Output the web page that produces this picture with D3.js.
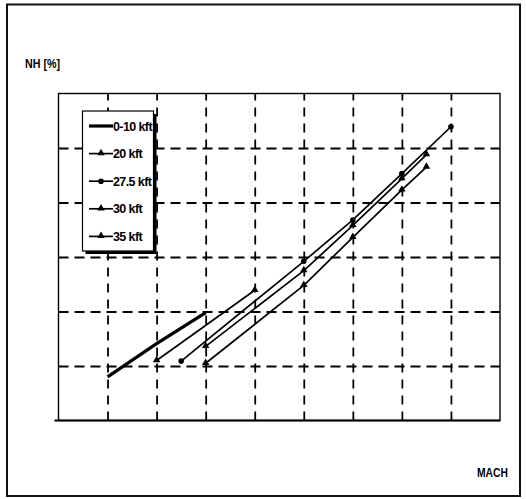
<!DOCTYPE html>
<html>
<head>
<meta charset="utf-8">
<script src="https://cdn.jsdelivr.net/npm/d3@7/dist/d3.min.js"></script>
<style>
  body { margin: 0; background: #ffffff; }
  svg { display: block; font-family: "Liberation Sans", Arial, sans-serif; }
</style>
</head>
<body>
<div id="chart"></div>
<script>
// grid positions (no tick labels are printed in the original)
const MACH_GRID = [0, 1, 2, 3, 4, 5, 6, 7, 8, 9];
const NH_GRID = [0, 1, 2, 3, 4, 5, 6];

const SERIES_LABELS = ["0-10 kft", "20 kft", "27.5 kft", "30 kft", "35 kft"];

// values, in grid units
const MACH_0_10 = [1, 2, 3];
const NH_0_10 = [0.8, 1.41, 1.98];

const MACH_20 = [2, 4];
const NH_20 = [1.1, 2.39];

const MACH_27_5 = [2.5, 5, 6, 7, 8];
const NH_27_5 = [1.09, 2.92, 3.68, 4.53, 5.39];

const MACH_30 = [3, 5, 6, 7, 7.5];
const NH_30 = [1.36, 2.75, 3.58, 4.44, 4.88];

const MACH_35 = [3, 5, 6, 7, 7.5];
const NH_35 = [1.05, 2.48, 3.36, 4.23, 4.65];

const SERIES = [
  { label: SERIES_LABELS[0], xs: MACH_0_10, ys: NH_0_10, width: 3.2, marker: null },
  { label: SERIES_LABELS[1], xs: MACH_20, ys: NH_20, width: 1.7, marker: "triangle" },
  { label: SERIES_LABELS[2], xs: MACH_27_5, ys: NH_27_5, width: 1.7, marker: "circle" },
  { label: SERIES_LABELS[3], xs: MACH_30, ys: NH_30, width: 1.7, marker: "triangle" },
  { label: SERIES_LABELS[4], xs: MACH_35, ys: NH_35, width: 1.7, marker: "triangle" },
];

const width = 526;
const height = 499;
const plot = { left: 58.5, right: 500, top: 93.5, bottom: 420.5 };

const svg = d3
  .select("#chart")
  .append("svg")
  .attr("width", width)
  .attr("height", height);

// outer frame
svg
  .append("rect")
  .attr("x", 7)
  .attr("y", 4.5)
  .attr("width", 513)
  .attr("height", 491.5)
  .attr("fill", "none")
  .attr("stroke", "#111")
  .attr("stroke-width", 2);

const xScale = d3.scaleLinear().domain([0, 9]).range([plot.left, plot.right]);
const yScale = d3.scaleLinear().domain([0, 6]).range([plot.bottom, plot.top]);

// dashed grid, drawn with axes
const innerW = plot.right - plot.left;
const innerH = plot.bottom - plot.top;

const vGrid = svg
  .append("g")
  .attr("transform", `translate(0,${plot.bottom})`)
  .call(
    d3
      .axisBottom(xScale)
      .tickValues(MACH_GRID.slice(1, -1))
      .tickSize(-innerH)
      .tickFormat("")
  );
vGrid.select(".domain").remove();
vGrid
  .selectAll(".tick line")
  .attr("stroke", "#000")
  .attr("stroke-width", 1.8)
  .attr("stroke-dasharray", "9,7");

const hGrid = svg
  .append("g")
  .attr("transform", `translate(${plot.left},0)`)
  .call(
    d3
      .axisLeft(yScale)
      .tickValues(NH_GRID.slice(1, -1))
      .tickSize(-innerW)
      .tickFormat("")
  );
hGrid.select(".domain").remove();
hGrid
  .selectAll(".tick line")
  .attr("stroke", "#000")
  .attr("stroke-width", 2)
  .attr("stroke-dasharray", "10,6");

// plot area box
svg
  .append("rect")
  .attr("x", plot.left)
  .attr("y", plot.top)
  .attr("width", innerW)
  .attr("height", innerH)
  .attr("fill", "none")
  .attr("stroke", "#000")
  .attr("stroke-width", 1.4);
svg
  .append("line")
  .attr("x1", plot.left - 4)
  .attr("x2", plot.right)
  .attr("y1", plot.bottom)
  .attr("y2", plot.bottom)
  .attr("stroke", "#000")
  .attr("stroke-width", 2);

const line = d3
  .line()
  .x((d) => xScale(d[0]))
  .y((d) => yScale(d[1]));

const triangle = d3.symbol().type(d3.symbolTriangle).size(24);

function drawMarker(g, type, cx, cy) {
  if (type === "triangle") {
    g.append("path")
      .attr("d", triangle())
      .attr("transform", `translate(${cx},${cy - 0.5})`)
      .attr("fill", "#000");
  } else if (type === "circle") {
    g.append("circle")
      .attr("cx", cx)
      .attr("cy", cy)
      .attr("r", 2.8)
      .attr("fill", "#000");
  }
}

const seriesLayer = svg.append("g");
SERIES.forEach((s) => {
  const pts = s.xs.map((x, i) => [x, s.ys[i]]);
  seriesLayer
    .append("path")
    .datum(pts)
    .attr("fill", "none")
    .attr("stroke", "#000")
    .attr("stroke-width", s.width)
    .attr("stroke-linejoin", "round")
    .attr("d", line);
  if (s.marker) {
    pts.forEach((p) => drawMarker(seriesLayer, s.marker, xScale(p[0]), yScale(p[1])));
  }
});

// legend
const legend = svg.append("g");
const lgBox = { x: 82.5, y: 111, w: 71, h: 140 };
legend
  .append("rect")
  .attr("x", lgBox.x + 3)
  .attr("y", lgBox.y + 3)
  .attr("width", lgBox.w)
  .attr("height", lgBox.h)
  .attr("fill", "#000");
legend
  .append("rect")
  .attr("x", lgBox.x)
  .attr("y", lgBox.y)
  .attr("width", lgBox.w)
  .attr("height", lgBox.h)
  .attr("fill", "#fff")
  .attr("stroke", "#000")
  .attr("stroke-width", 1.2);

SERIES.forEach((s, i) => {
  const y = 126 + i * 27.6;
  legend
    .append("line")
    .attr("x1", 89)
    .attr("x2", 113)
    .attr("y1", y)
    .attr("y2", y)
    .attr("stroke", "#000")
    .attr("stroke-width", s.width);
  if (s.marker) {
    drawMarker(legend, s.marker, 101, y);
  }
  legend
    .append("text")
    .attr("x", 113)
    .attr("y", y + 4.5)
    .attr("font-size", 12.5)
    .attr("font-weight", 700)
    .attr("letter-spacing", -0.6)
    .attr("fill", "#000")
    .text(s.label);
});

// axis titles
svg
  .append("text")
  .attr("x", 25)
  .attr("y", 68)
  .attr("font-size", 12.5)
  .attr("font-weight", 700)
  .attr("textLength", 35)
  .attr("lengthAdjust", "spacingAndGlyphs")
  .text("NH [%]");

svg
  .append("text")
  .attr("x", 477)
  .attr("y", 477)
  .attr("font-size", 13)
  .attr("font-weight", 700)
  .attr("textLength", 31)
  .attr("lengthAdjust", "spacingAndGlyphs")
  .text("MACH");
</script>
</body>
</html>
